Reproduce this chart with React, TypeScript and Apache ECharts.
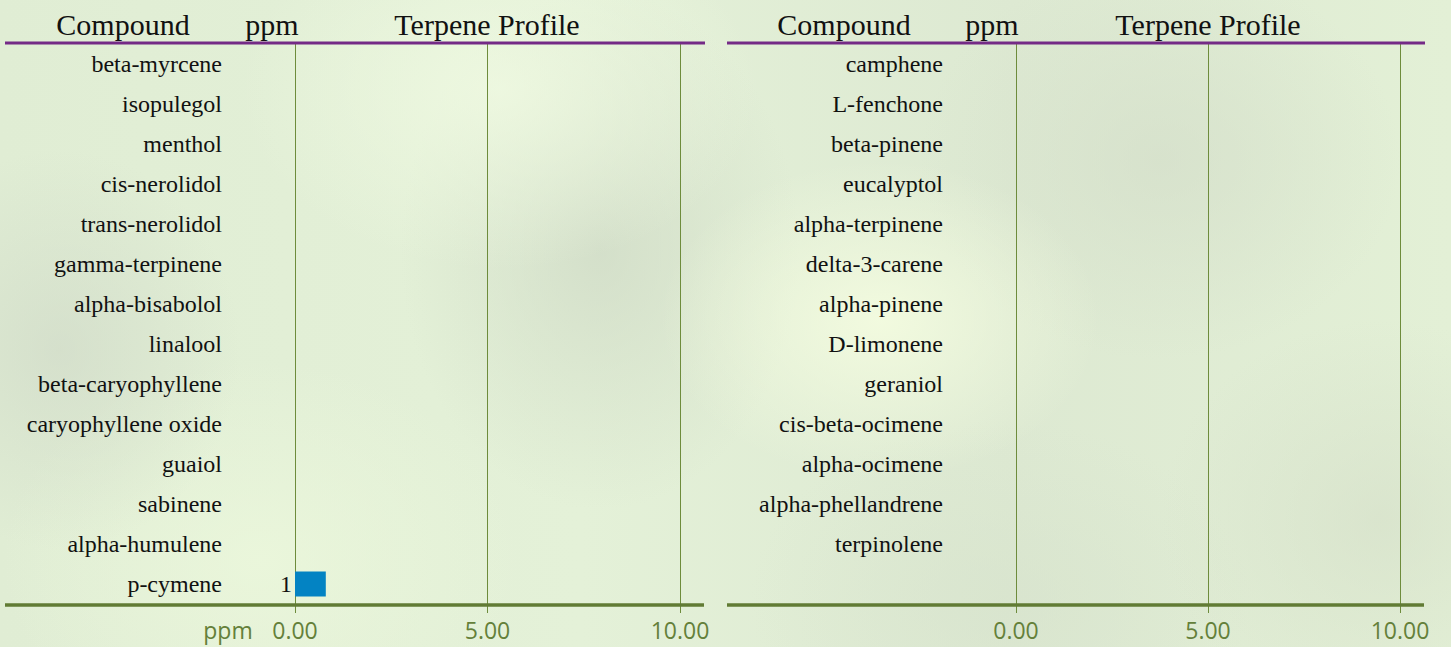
import React, { useEffect, useRef } from "react";
import * as echarts from "echarts";

const leftCompounds = [
  "beta-myrcene", "isopulegol", "menthol", "cis-nerolidol", "trans-nerolidol",
  "gamma-terpinene", "alpha-bisabolol", "linalool", "beta-caryophyllene",
  "caryophyllene oxide", "guaiol", "sabinene", "alpha-humulene", "p-cymene",
];
const leftValues: (number | null)[] = [null, null, null, null, null, null, null, null, null, null, null, null, null, 0.8];

const rightCompounds = [
  "camphene", "L-fenchone", "beta-pinene", "eucalyptol", "alpha-terpinene",
  "delta-3-carene", "alpha-pinene", "D-limonene", "geraniol", "cis-beta-ocimene",
  "alpha-ocimene", "alpha-phellandrene", "terpinolene",
];
const rightValues: (number | null)[] = [null, null, null, null, null, null, null, null, null, null, null, null, null];

const headers = ["Compound", "ppm", "Terpene Profile"];
const xTicks = { min: 0, max: 10, interval: 5 };

const SERIF = "'Liberation Serif', 'Times New Roman', serif";
const SANS = "'Open Sans', Lato, sans-serif";
const PURPLE = "#742a86";
const GREEN = "#617b34";
const GRID_GREEN = "#6e8c3c";
const LABEL_GREEN = "#64803a";

export default function App() {
  const ref = useRef<HTMLDivElement>(null);
  useEffect(() => {
    document.body.style.margin = "0";
    const chart = echarts.init(ref.current!, undefined, { renderer: "svg" });
    const rows = Math.max(leftCompounds.length, rightCompounds.length);
    const pad = (a: any[], fill: any) => a.concat(Array(rows - a.length).fill(fill));
    const cats = [pad(leftCompounds, ""), pad(rightCompounds, "")];
    const vals = [pad(leftValues, null), pad(rightValues, null)];

    const grids = [
      { left: 295, right: 1451 - 680, top: 44, height: 560 },
      { left: 1016, right: 1451 - 1400, top: 44, height: 560 },
    ];
    const xAxis = grids.map((_, i) => ({
      type: "value",
      gridIndex: i,
      min: xTicks.min,
      max: xTicks.max,
      interval: xTicks.interval,
      axisLine: { show: false },
      axisTick: { show: true, length: 9, lineStyle: { color: GRID_GREEN, width: 1 } },
      splitLine: { show: true, lineStyle: { color: GRID_GREEN, width: 1 } },
      axisLabel: {
        formatter: (v: number) => v.toFixed(2),
        color: LABEL_GREEN,
        fontFamily: SANS,
        fontSize: 23,
        margin: 14,
      },
    }));
    const yAxis = grids.map((_, i) => ({
      type: "category",
      gridIndex: i,
      inverse: true,
      data: cats[i],
      axisLine: { show: false },
      axisTick: { show: false },
      splitLine: { show: false },
      axisLabel: { color: "#111", fontFamily: SERIF, fontSize: 24, margin: 73 },
    }));
    const series = grids.map((_, i) => ({
      type: "bar",
      xAxisIndex: i,
      yAxisIndex: i,
      data: vals[i],
      barWidth: 25,
      itemStyle: { color: "#0383c3" },
      label: {
        show: true,
        position: "left",
        distance: 3,
        color: "#111",
        fontFamily: SERIF,
        fontSize: 24,
        formatter: (p: any) => (p.value == null ? "" : String(Math.round(p.value))),
      },
    }));

    const headerX = [
      [123, 272, 487],
      [844, 992, 1208],
    ];
    const panelSpans = [
      [5, 705],
      [727, 1425],
    ];
    const graphic: any[] = [];
    panelSpans.forEach(([x1, x2], i) => {
      graphic.push({
        type: "line",
        shape: { x1, y1: 43, x2, y2: 43 },
        style: { stroke: PURPLE, lineWidth: 3 },
        z: 10,
      });
      graphic.push({
        type: "line",
        shape: { x1, y1: 605, x2: x2 - 1, y2: 605 },
        style: { stroke: GREEN, lineWidth: 3.5 },
        z: 10,
      });
      headers.forEach((h, j) => {
        graphic.push({
          type: "text",
          x: headerX[i][j],
          y: 24,
          style: {
            text: h,
            fill: "#111",
            font: `30px ${SERIF}`,
            align: "center",
            verticalAlign: "middle",
          },
        });
      });
    });
    graphic.push({
      type: "text",
      x: 228,
      y: 618,
      style: {
        text: "ppm",
        fill: LABEL_GREEN,
        font: `23px ${SANS}`,
        align: "center",
        verticalAlign: "top",
      },
    });

    chart.setOption({
      animation: false,
      backgroundColor: "transparent",
      grid: grids,
      xAxis,
      yAxis,
      series,
      graphic,
    });
    return () => chart.dispose();
  }, []);

  const bg = [
    "radial-gradient(ellipse 220px 160px at 880px 320px, rgba(244,252,224,0.9), rgba(244,252,224,0) )",
    "radial-gradient(ellipse 260px 180px at 500px 90px, rgba(240,250,226,0.8), rgba(240,250,226,0))",
    "radial-gradient(ellipse 200px 260px at 600px 250px, rgba(205,216,196,0.7), rgba(205,216,196,0))",
    "radial-gradient(ellipse 180px 200px at 60px 350px, rgba(208,218,200,0.7), rgba(208,218,200,0))",
    "radial-gradient(ellipse 240px 200px at 1160px 160px, rgba(210,220,200,0.6), rgba(210,220,200,0))",
    "radial-gradient(ellipse 220px 200px at 1380px 520px, rgba(212,222,200,0.6), rgba(212,222,200,0))",
    "radial-gradient(ellipse 260px 200px at 260px 560px, rgba(236,248,220,0.8), rgba(236,248,220,0))",
    "radial-gradient(ellipse 250px 180px at 1000px 600px, rgba(214,226,204,0.6), rgba(214,226,204,0))",
    "linear-gradient(90deg, #e0edd4, #e4f1d8 40%, #dde9d2 70%, #e3f0d6)",
  ].join(",");

  return (
    <div
      ref={ref}
      style={{ position: "fixed", left: 0, top: 0, width: 1451, height: 647, background: bg }}
    />
  );
}
